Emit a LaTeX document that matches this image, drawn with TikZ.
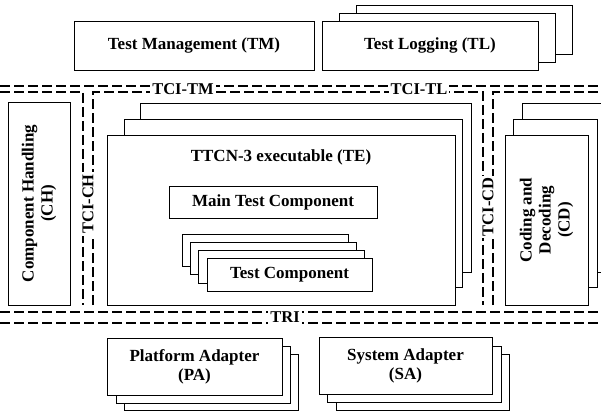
\documentclass[tikz,border=0pt]{standalone}
\usepackage{fontspec}
\setmainfont{Liberation Serif}
\usetikzlibrary{calc}

\begin{document}
\begin{tikzpicture}[x=1pt, y=-1pt,
				every text node part/.style={align=center},
				box/.style={rectangle, draw=black, fill=white, line width=0.8pt, inner sep=0pt, font=\bfseries\fontsize{17}{19}\selectfont},
				layer/.style={draw=black, fill=white, line width=0.8pt},
				iface/.style={line width=1.5pt, dash pattern=on 10pt off 4pt},
				lbl/.style={fill=white, inner xsep=2pt, inner ysep=1pt, font=\bfseries\fontsize{16.5}{18}\selectfont},
				title/.style={inner sep=0pt, anchor=base, font=\bfseries\fontsize{17}{19}\selectfont}]

					\useasboundingbox (0,0) rectangle (601,411);
					\clip (0,0) rectangle (601,411);

					% interface buses
					\draw[iface] (0,86) -- (601,86);
					\draw[iface] (0,92) -- (83,92) -- (83,305);
					\draw[iface] (93,305) -- (93,92) -- (483,92) -- (483,305);
					\draw[iface] (493,305) -- (493,92) -- (601,92);
					\draw[iface] (0,312) -- (601,312);
					\draw[iface] (0,323) -- (601,323);

					% upper entities
					\node[box, minimum width=240pt, minimum height=49pt] (tm) at (194,45.5) {Test Management (TM)};
					\draw[layer] (356,5) rectangle (572,54);
					\draw[layer] (339,13) rectangle (555,62);
					\node[box, minimum width=216pt, minimum height=49pt] (tl) at (430,45.5) {Test Logging (TL)};

					% side entities
					\node[box, rotate=90, minimum width=203pt, minimum height=62pt] (ch) at (39,203.5) {Component Handling\\(CH)};
					\draw[layer] (522,103) rectangle (612,272);
					\draw[layer] (513,119) rectangle (597,287);
					\node[box, rotate=90, minimum width=170pt, minimum height=83pt] (cd) at (546.5,220) {Coding and\\Decoding\\(CD)};

					% executable
					\draw[layer] (140,103) rectangle (471,272);
					\draw[layer] (124,119) rectangle (462,287);
					\node[box, minimum width=348pt, minimum height=170pt] (te) at (281,220) {};
					\node[title] (tetitle) at (281,162) {TTCN-3 executable (TE)};
					\node[box, minimum width=208pt, minimum height=32pt] (mtc) at (273,202) {Main Test Component};
					\draw[layer] (182,234) rectangle (348,266);
					\draw[layer] (190,242) rectangle (356,274);
					\draw[layer] (198,250) rectangle (364,283);
					\node[box, minimum width=165pt, minimum height=33pt] (tc) at (289.5,274.5) {Test Component};

					% adapters
					\draw[layer] (124,354) rectangle (298,410);
					\draw[layer] (116,346) rectangle (290,403);
					\node[box, minimum width=175pt, minimum height=57pt] (pa) at (194.5,366.5) {Platform Adapter\\(PA)};
					\draw[layer] (336,354) rectangle (509,410);
					\draw[layer] (327,346) rectangle (501,402);
					\node[box, minimum width=173pt, minimum height=57pt] (sa) at (405.5,365.5) {System Adapter\\(SA)};

					% interface labels
					\node[lbl] (tcitm) at (183,89) {TCI-TM};
					\node[lbl] (tcitl) at (419,89) {TCI-TL};
					\node[lbl, rotate=90] (tcich) at (88,204) {TCI-CH};
					\node[lbl, rotate=90] (tcicd) at (488,207) {TCI-CD};
					\node[lbl] (tri) at (285,317.5) {TRI};
				\end{tikzpicture}
\end{document}
